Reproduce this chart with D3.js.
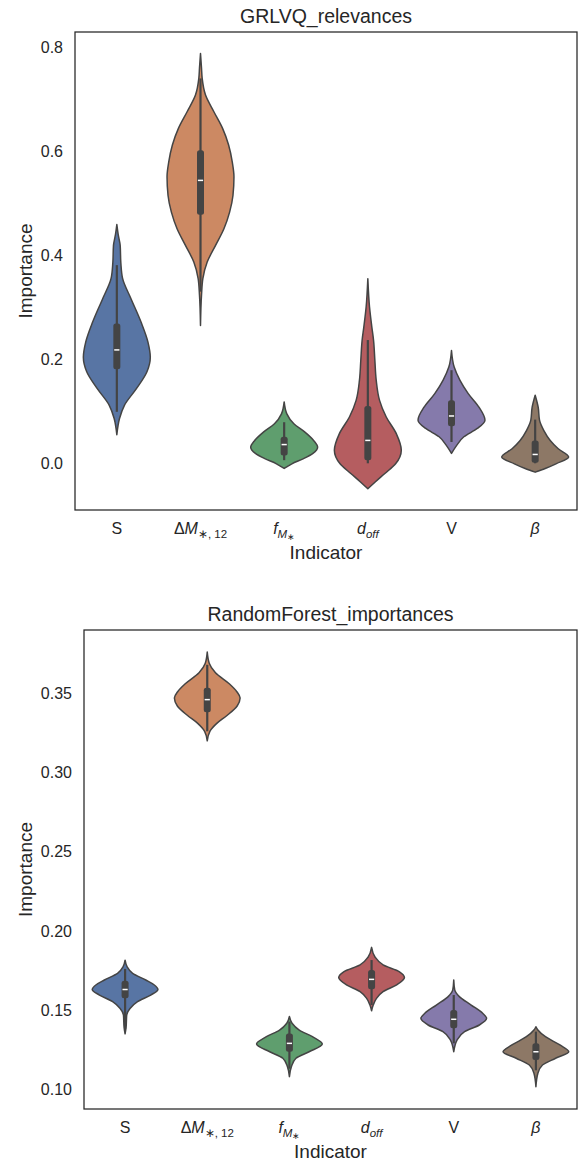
<!DOCTYPE html>
<html>
<head>
<meta charset="utf-8">
<script src="https://cdn.jsdelivr.net/npm/d3@7"></script>
<style>
  body { margin: 0; background: #fff; }
  svg text { font-family: "Liberation Sans", Arial, sans-serif; fill: #262626; }
</style>
</head>
<body>
<svg id="chart" width="579" height="1160"></svg>
<script>
const indicators = ["S", "dM", "fM", "doff", "V", "beta"];
const colors = ["#5875a4", "#cc8963", "#5f9e6e", "#b55d60", "#857aab", "#8d7866"];

// violin outlines: [value, relative half-width]
const grlvqS = [[0.459,0],[0.440,0.04],[0.419,0.1],[0.385,0.12],[0.356,0.17],[0.317,0.42],[0.272,0.72],[0.233,0.93],[0.204,1],[0.176,0.9],[0.144,0.59],[0.112,0.23],[0.086,0.08],[0.055,0]];
const grlvqDM = [[0.788,0],[0.760,0.03],[0.740,0.05],[0.708,0.15],[0.676,0.4],[0.644,0.66],[0.612,0.84],[0.579,0.95],[0.551,1],[0.515,0.97],[0.483,0.87],[0.451,0.7],[0.419,0.45],[0.387,0.2],[0.355,0.07],[0.323,0.03],[0.265,0]];
const grlvqF = [[0.118,0],[0.095,0.08],[0.076,0.29],[0.060,0.62],[0.044,0.88],[0.031,1],[0.019,0.86],[0.009,0.58],[-0.001,0.23],[-0.010,0]];
const grlvqDoff = [[0.355,0],[0.301,0.05],[0.262,0.12],[0.237,0.17],[0.198,0.21],[0.160,0.25],[0.121,0.35],[0.089,0.55],[0.057,0.85],[0.025,1],[-0.001,0.83],[-0.020,0.5],[-0.036,0.22],[-0.049,0]];
const grlvqV = [[0.217,0],[0.185,0.08],[0.160,0.25],[0.134,0.5],[0.108,0.82],[0.083,1],[0.067,0.77],[0.051,0.37],[0.035,0.16],[0.019,0]];
const grlvqBeta = [[0.131,0],[0.108,0.09],[0.083,0.13],[0.063,0.26],[0.044,0.45],[0.028,0.69],[0.012,1],[-0.001,0.62],[-0.010,0.3],[-0.017,0]];
// [whisker low, q1, median, q3, whisker high]
const grlvqBoxes = [
  [0.099, 0.181, 0.218, 0.269, 0.381],
  [0.330, 0.478, 0.544, 0.602, 0.740],
  [0.006, 0.015, 0.036, 0.051, 0.079],
  [0.000, 0.006, 0.044, 0.110, 0.237],
  [0.041, 0.071, 0.091, 0.121, 0.179],
  [0.000, 0.001, 0.017, 0.044, 0.084],
];
const grlvqTicks = [0.0, 0.2, 0.4, 0.6, 0.8];

const rfS = [[0.1815,0],[0.1774,0.06],[0.1732,0.23],[0.169,0.63],[0.166,0.88],[0.163,1],[0.1595,0.78],[0.1553,0.38],[0.151,0.15],[0.147,0.05],[0.139,0.03],[0.135,0]];
const rfDM = [[0.376,0],[0.369,0.06],[0.363,0.25],[0.356,0.67],[0.351,0.9],[0.347,1],[0.342,0.91],[0.336,0.6],[0.331,0.29],[0.326,0.08],[0.320,0]];
const rfF = [[0.146,0],[0.1417,0.08],[0.1374,0.3],[0.1332,0.7],[0.1286,1],[0.1237,0.6],[0.1196,0.2],[0.1143,0.06],[0.108,0]];
const rfDoff = [[0.1896,0],[0.1837,0.1],[0.1785,0.35],[0.1742,0.85],[0.1705,1],[0.1658,0.75],[0.1616,0.35],[0.1574,0.15],[0.1532,0.05],[0.1496,0]];
const rfV = [[0.169,0],[0.1627,0.03],[0.1585,0.17],[0.1532,0.53],[0.148,0.88],[0.1448,1],[0.1406,0.78],[0.1364,0.33],[0.1311,0.1],[0.1237,0]];
const rfBeta = [[0.1395,0],[0.1374,0.06],[0.1332,0.29],[0.128,0.73],[0.1237,1],[0.1196,0.6],[0.1153,0.2],[0.1101,0.06],[0.1016,0]];
const rfBoxes = [
  [0.138, 0.1574, 0.163, 0.1686, 0.176],
  [0.326, 0.338, 0.346, 0.3535, 0.368],
  [0.113, 0.1237, 0.129, 0.1353, 0.1427],
  [0.1532, 0.1631, 0.1694, 0.1753, 0.1816],
  [0.129, 0.1385, 0.1442, 0.150, 0.1595],
  [0.112, 0.1185, 0.1237, 0.129, 0.1364],
];
const rfTicks = [0.10, 0.15, 0.20, 0.25, 0.30, 0.35];

const svg = d3.select("#chart");
const lineColor = "#444";
const mathFont = "DejaVu Sans";

function tickLabel(text, key) {
  const t = (s, opts = {}) => {
    const sp = text.append("tspan").text(s);
    if (opts.italic) sp.attr("font-style", "italic");
    if (opts.size) sp.attr("font-size", opts.size);
    if (opts.dy) sp.attr("dy", opts.dy);
    return sp;
  };
  if (key === "S") t("S");
  else if (key === "V") t("V");
  else if (key === "dM") {
    text.attr("font-family", mathFont);
    t("Δ");
    t("M", { italic: true });
    t("∗, 12", { size: 11.5, dy: 4 });
  } else if (key === "fM") {
    text.attr("font-family", mathFont);
    t("f", { italic: true });
    t("M", { italic: true, size: 11.5, dy: 4 });
    t("∗", { size: 8.5, dy: 2 });
  } else if (key === "doff") {
    text.attr("font-family", mathFont);
    t("d", { italic: true });
    t("off", { italic: true, size: 11.5, dy: 4 });
  } else if (key === "beta") {
    text.attr("font-family", mathFont);
    t("β", { italic: true });
  }
}

function drawPanel(cfg) {
  const { left, top, right, bottom } = cfg;
  const g = svg.append("g");

  const x = d3.scaleBand().domain(indicators).range([left, right]).padding(0);
  const y = d3.scaleLinear().domain(cfg.domain).range([bottom, top]);
  const halfW = x.bandwidth() * 0.4;

  cfg.profiles.forEach((prof, i) => {
    const cx = x(indicators[i]) + x.bandwidth() / 2;
    const area = d3.area()
      .curve(d3.curveMonotoneY)
      .y((d) => y(d[0]))
      .x0((d) => cx - d[1] * halfW)
      .x1((d) => cx + d[1] * halfW);

    g.append("path")
      .attr("d", area(prof))
      .attr("fill", colors[i])
      .attr("stroke", lineColor)
      .attr("stroke-width", 1.5)
      .attr("stroke-linejoin", "round");

    const [lo, q1, med, q3, hi] = cfg.boxes[i];
    g.append("line")
      .attr("x1", cx).attr("x2", cx)
      .attr("y1", y(hi)).attr("y2", y(lo))
      .attr("stroke", lineColor)
      .attr("stroke-width", 2.2);
    g.append("rect")
      .attr("x", cx - 3.5)
      .attr("width", 7)
      .attr("y", y(q3))
      .attr("height", y(q1) - y(q3))
      .attr("rx", 2.5)
      .attr("fill", lineColor);
    g.append("line")
      .attr("x1", cx - 2.6).attr("x2", cx + 2.6)
      .attr("y1", y(med)).attr("y2", y(med))
      .attr("stroke", "#fff")
      .attr("stroke-width", 1.5);
  });

  // y axis
  const yAxis = g.append("g")
    .attr("transform", `translate(${left},0)`)
    .call(d3.axisLeft(y).tickValues(cfg.ticks).tickFormat(d3.format(cfg.fmt)).tickSize(0).tickPadding(12));
  yAxis.select(".domain").remove();
  yAxis.selectAll("text")
    .attr("font-size", 16)
    .attr("font-family", "Liberation Sans, Arial, sans-serif")
    .attr("fill", "#262626");

  // x axis
  const xAxis = g.append("g")
    .attr("transform", `translate(0,${bottom})`)
    .call(d3.axisBottom(x).tickSize(0).tickFormat(""));
  xAxis.select(".domain").remove();
  xAxis.selectAll(".tick").each(function (d) {
    const tx = d3.select(this).select("text");
    tx.attr("y", 24).attr("dy", null)
      .attr("font-size", 16)
      .attr("font-family", "Liberation Sans, Arial, sans-serif")
      .attr("fill", "#262626");
    tickLabel(tx, d);
  });

  // frame
  g.append("rect")
    .attr("x", left).attr("y", top)
    .attr("width", right - left).attr("height", bottom - top)
    .attr("fill", "none")
    .attr("stroke", "#262626")
    .attr("stroke-width", 1.25);

  g.append("text")
    .attr("x", (left + right) / 2)
    .attr("y", top - 9.5)
    .attr("text-anchor", "middle")
    .attr("font-size", 19.5)
    .text(cfg.title);

  g.append("text")
    .attr("x", (left + right) / 2)
    .attr("y", bottom + 48.5)
    .attr("text-anchor", "middle")
    .attr("font-size", 19)
    .text("Indicator");

  g.append("text")
    .attr("transform", `translate(32,${(top + bottom) / 2}) rotate(-90)`)
    .attr("text-anchor", "middle")
    .attr("font-size", 19)
    .text("Importance");
}

drawPanel({
  left: 75, top: 32, right: 577, bottom: 510,
  domain: [-0.0898, 0.8293],
  ticks: grlvqTicks, fmt: ".1f",
  title: "GRLVQ_relevances",
  profiles: [grlvqS, grlvqDM, grlvqF, grlvqDoff, grlvqV, grlvqBeta],
  boxes: grlvqBoxes,
});

drawPanel({
  left: 84, top: 630, right: 577, bottom: 1109,
  domain: [0.08756, 0.38996],
  ticks: rfTicks, fmt: ".2f",
  title: "RandomForest_importances",
  profiles: [rfS, rfDM, rfF, rfDoff, rfV, rfBeta],
  boxes: rfBoxes,
});
</script>
</body>
</html>
